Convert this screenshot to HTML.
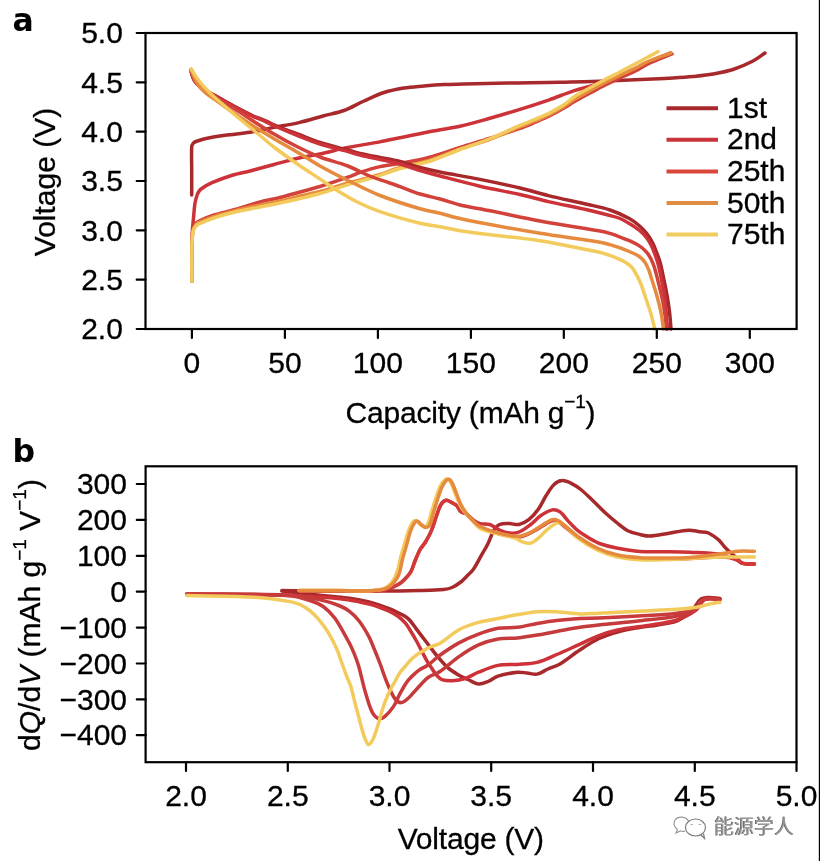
<!DOCTYPE html>
<html><head><meta charset="utf-8"><style>
html,body{margin:0;padding:0;background:#fff;}
body{width:820px;height:861px;overflow:hidden;position:relative;}
svg{position:absolute;left:0;top:0;}
.ax{fill:none;stroke:#000;stroke-width:2.2;}
.tk{fill:none;stroke:#000;stroke-width:2.2;stroke-linecap:round;}
.tl{font-family:"Liberation Sans",Arial,sans-serif;font-size:30px;fill:#000;stroke:#000;stroke-width:0.3px;}
.pl{font-family:"DejaVu Sans",sans-serif;font-size:31.5px;font-weight:bold;fill:#000;}
.lg{stroke-width:4;fill:none;}
.cv path{fill:none;stroke-width:3.5;stroke-linecap:round;stroke-linejoin:round;}
.wm{font-family:"Liberation Sans","Noto Sans CJK SC",sans-serif;font-size:20px;fill:#7a7a7a;}
</style></head><body>
<svg width="820" height="861" viewBox="0 0 820 861">
<rect x="0" y="0" width="820" height="861" fill="#fff"/>
<g class="cv">
<path d="M191.7,195.0C191.7,186.7 191.7,178.3 191.7,170.0C191.7,162.3 191.3,154.6 191.7,147.0C191.8,145.8 192.3,144.4 193.0,143.5C193.7,142.6 194.9,141.9 196.0,141.5C199.2,140.3 202.6,139.2 206.0,138.5C212.3,137.2 218.6,136.2 225.0,135.3C233.3,134.1 241.7,133.6 250.0,132.3C258.1,131.0 266.0,129.0 274.0,127.4C282.3,125.8 290.7,124.5 299.0,122.6C307.1,120.7 315.0,118.2 323.0,116.0C330.0,114.1 337.2,113.0 344.0,110.5C350.9,108.0 357.3,104.0 364.0,101.0C370.6,98.0 377.1,94.7 384.0,92.5C390.5,90.4 397.3,89.1 404.0,88.0C410.6,86.9 417.3,86.6 424.0,86.0C430.7,85.4 437.3,84.9 444.0,84.6C450.7,84.3 457.3,84.2 464.0,84.0C478.7,83.6 493.3,83.3 508.0,83.0C525.3,82.7 542.7,82.7 560.0,82.3C579.3,81.9 598.7,81.2 618.0,80.5C629.7,80.1 641.3,79.5 653.0,79.0C659.7,78.7 666.3,78.4 673.0,78.0C679.7,77.6 686.3,77.2 693.0,76.5C699.7,75.8 706.4,75.2 713.0,74.0C719.7,72.8 726.5,71.6 733.0,69.5C739.9,67.3 746.6,64.3 753.0,61.0C757.3,58.8 761.0,55.7 765.0,53.0" stroke="#a8292c"/>
<path d="M191.9,281.0C191.9,270.7 191.8,260.3 191.9,250.0C191.9,244.0 192.0,238.0 192.3,232.0C192.5,227.3 193.1,222.7 193.5,218.0C194.0,213.0 194.2,207.9 195.0,203.0C195.5,199.9 196.4,196.9 197.5,194.0C198.2,192.4 199.0,190.6 200.4,189.5C203.9,186.8 207.9,184.5 212.0,182.7C218.8,179.7 225.9,177.2 233.0,175.0C238.6,173.3 244.4,172.4 250.0,171.0C258.0,168.9 266.0,166.6 274.0,164.5C282.3,162.3 290.6,159.9 299.0,158.0C305.9,156.4 313.0,155.5 320.0,154.0C329.3,152.0 338.5,149.3 347.9,147.4C358.5,145.3 369.3,143.9 380.0,141.9C386.2,140.7 392.4,139.3 398.6,138.0C408.4,136.0 418.2,133.9 428.0,132.0C438.6,130.0 449.4,128.5 460.0,126.2C469.8,124.0 479.4,121.2 489.0,118.5C499.4,115.6 509.7,112.5 520.0,109.3C529.8,106.3 539.6,103.1 549.3,99.8C557.9,96.8 566.3,93.2 575.0,90.4C580.9,88.5 587.1,87.3 593.0,85.5C596.8,84.3 600.6,82.9 604.3,81.5C609.2,79.6 614.0,77.5 618.9,75.5C624.3,73.3 629.7,71.4 635.0,69.0C639.4,67.0 643.6,64.5 648.0,62.5C655.3,59.2 662.7,56.2 670.0,53.0" stroke="#cc3238"/>
<path d="M191.9,281.0C191.9,270.7 191.8,260.3 191.9,250.0C191.9,245.3 191.9,240.6 192.2,236.0C192.4,233.1 192.7,230.2 193.5,227.5C194.0,225.9 194.9,224.3 196.0,223.0C196.8,222.1 197.9,221.5 199.0,221.0C203.9,218.8 208.9,216.7 214.0,215.0C220.2,213.0 226.7,211.8 233.0,210.0C242.0,207.4 250.9,204.4 260.0,202.0C266.6,200.2 273.4,199.2 280.0,197.5C286.7,195.8 293.3,193.8 300.0,192.0C306.7,190.2 313.4,188.5 320.0,186.5C329.4,183.6 338.7,180.5 347.9,177.2C352.0,175.8 355.9,173.8 360.0,172.4C366.6,170.2 373.2,168.1 380.0,166.6C386.6,165.1 393.4,164.7 400.0,163.5C409.6,161.7 419.3,160.0 428.8,157.5C439.3,154.7 449.6,150.8 460.0,147.5C469.7,144.4 479.6,141.6 489.3,138.5C499.6,135.2 509.8,131.9 520.0,128.3C524.9,126.6 529.8,124.5 534.6,122.5C539.5,120.4 544.5,118.4 549.3,116.0C554.3,113.5 559.1,110.8 563.9,108.0C567.7,105.9 571.2,103.4 575.0,101.3C579.8,98.5 584.7,95.9 589.6,93.3C594.5,90.7 599.4,88.0 604.3,85.5C609.1,83.0 614.0,80.6 618.9,78.3C624.2,75.8 629.8,73.9 635.0,71.3C639.5,69.1 643.5,66.1 648.0,64.0C655.8,60.3 664.0,57.3 672.0,54.0" stroke="#d2423a"/>
<path d="M191.9,281.0C191.9,270.7 191.8,260.3 191.9,250.0C191.9,245.7 192.0,241.3 192.3,237.0C192.5,234.3 192.7,231.5 193.5,229.0C194.0,227.4 195.0,225.8 196.0,224.5C196.7,223.6 197.7,223.0 198.7,222.5C203.8,220.2 209.1,218.1 214.4,216.3C220.5,214.3 226.8,212.7 233.0,211.2C242.0,209.0 251.0,207.0 260.0,205.0C266.6,203.6 273.4,202.5 280.0,201.0C286.7,199.5 293.3,197.6 300.0,196.0C306.6,194.4 313.4,193.3 320.0,191.5C329.4,189.0 338.6,185.7 347.9,183.0C351.9,181.9 356.0,181.1 360.0,180.0C366.7,178.2 373.4,176.6 380.0,174.5C386.7,172.4 393.2,169.4 400.0,167.5C409.5,164.8 419.4,163.4 428.8,160.5C439.4,157.2 449.5,152.6 460.0,149.0C469.7,145.6 479.7,143.0 489.3,139.5C499.7,135.7 509.8,131.1 520.0,127.0C524.9,125.0 529.8,123.2 534.6,121.2C539.5,119.1 544.5,117.0 549.3,114.6C554.3,112.1 559.1,109.4 563.9,106.5C567.7,104.2 571.2,101.4 575.0,99.1C579.8,96.2 584.7,93.7 589.6,91.0C594.5,88.3 599.3,85.6 604.3,83.0C609.1,80.5 614.0,78.1 618.9,75.8C624.2,73.3 629.7,71.0 635.0,68.4C639.4,66.2 643.5,63.4 648.0,61.5C655.5,58.3 663.3,55.8 671.0,53.0" stroke="#e68a3e"/>
<path d="M191.9,281.0C191.9,270.7 191.8,260.3 191.9,250.0C191.9,246.0 192.0,242.0 192.3,238.0C192.5,235.3 192.7,232.5 193.5,230.0C194.0,228.5 195.0,227.2 196.0,226.0C196.7,225.2 197.7,224.5 198.7,224.0C203.8,221.7 209.1,219.6 214.4,217.8C220.5,215.8 226.7,214.0 233.0,212.5C241.9,210.4 251.0,208.8 260.0,207.0C266.7,205.7 273.4,204.4 280.0,203.0C286.7,201.6 293.4,200.1 300.0,198.5C306.7,196.9 313.4,195.4 320.0,193.5C329.4,190.8 338.6,187.5 347.9,184.6C351.9,183.4 356.0,182.4 360.0,181.2C366.7,179.3 373.4,177.5 380.0,175.4C386.7,173.3 393.2,170.4 400.0,168.5C409.5,165.8 419.4,164.5 428.8,161.5C439.4,158.1 449.6,153.4 460.0,149.5C469.7,145.9 479.7,142.9 489.3,139.0C499.7,134.8 509.7,129.7 520.0,125.3C524.8,123.2 529.8,121.5 534.6,119.5C539.5,117.4 544.5,115.4 549.3,113.0C554.3,110.5 559.2,107.8 563.9,104.8C567.8,102.2 571.1,98.8 575.0,96.2C579.7,93.2 584.7,90.7 589.6,88.0C594.5,85.3 599.4,82.6 604.3,80.0C609.1,77.4 614.0,75.0 618.9,72.5C624.3,69.7 629.6,66.9 635.0,64.0C639.3,61.7 643.7,59.3 648.0,57.0C651.3,55.2 654.7,53.5 658.0,51.7" stroke="#f2cb5c"/>
<path d="M191.3,69.5C191.4,70.7 191.2,71.9 191.5,73.0C192.3,75.7 193.1,78.8 194.8,81.0C197.4,84.3 201.0,87.0 204.5,89.5C207.5,91.7 211.0,93.2 214.3,95.0C217.5,96.8 220.8,98.7 224.0,100.5C227.3,102.3 230.5,104.2 233.8,106.0C237.0,107.7 240.3,109.3 243.5,111.0C246.8,112.7 250.0,114.5 253.3,116.0C257.1,117.7 261.2,118.9 265.0,120.5C268.2,121.9 271.2,123.7 274.4,125.0C282.5,128.3 290.7,131.4 298.8,134.5C305.9,137.2 312.8,140.2 320.0,142.5C329.2,145.4 338.6,147.4 347.9,150.0C351.9,151.1 355.9,152.5 360.0,153.5C366.6,155.0 373.3,156.2 380.0,157.5C386.7,158.8 393.4,159.9 400.0,161.5C406.7,163.2 413.3,165.7 420.0,167.5C426.6,169.2 433.3,170.7 440.0,172.0C453.3,174.6 466.7,176.7 480.0,179.4C493.4,182.1 506.7,184.9 520.0,188.0C529.5,190.3 538.8,193.3 548.3,195.6C561.5,198.8 574.8,201.4 588.0,204.5C595.4,206.2 602.9,207.6 610.0,210.0C616.6,212.2 623.1,215.2 629.3,218.5C632.8,220.4 636.0,222.9 639.0,225.5C641.8,227.9 644.5,230.6 646.8,233.5C649.1,236.4 651.0,239.7 652.7,243.0C654.3,246.0 655.4,249.3 656.6,252.5C657.8,255.6 659.1,258.8 660.0,262.0C661.6,267.9 662.7,274.0 664.0,280.0C665.1,285.0 666.1,290.0 667.0,295.0C668.0,300.6 668.8,306.3 669.5,312.0C670.2,317.6 670.5,323.3 671.0,329.0" stroke="#a8292c"/>
<path d="M191.3,69.5C191.4,70.7 191.2,71.9 191.5,73.0C192.3,75.9 193.0,79.1 194.8,81.5C197.3,84.9 201.0,87.7 204.5,90.2C207.5,92.4 211.1,93.7 214.3,95.5C217.6,97.3 220.8,99.1 224.0,101.0C227.3,102.9 230.5,105.0 233.8,106.8C237.0,108.5 240.3,110.1 243.5,111.7C246.8,113.3 250.0,115.1 253.3,116.6C257.1,118.3 261.2,119.6 265.0,121.3C268.2,122.7 271.2,124.6 274.4,126.0C282.5,129.5 290.6,132.8 298.8,136.0C305.8,138.8 312.8,141.7 320.0,144.0C329.2,146.9 338.6,148.9 347.9,151.5C351.9,152.6 355.9,154.0 360.0,155.0C366.6,156.7 373.3,158.0 380.0,159.5C386.7,161.0 393.4,162.2 400.0,164.0C406.8,165.9 413.3,168.5 420.0,170.5C426.6,172.5 433.3,174.2 440.0,176.0C453.3,179.5 466.6,183.1 480.0,186.2C493.3,189.3 506.7,191.5 520.0,194.5C529.5,196.6 538.8,199.4 548.3,201.6C561.5,204.6 574.8,207.0 588.0,210.0C595.4,211.7 602.7,213.6 610.0,215.5C613.4,216.4 616.8,217.2 620.0,218.5C623.2,219.8 626.3,221.7 629.3,223.5C632.6,225.5 636.0,227.5 639.0,230.0C641.9,232.4 644.6,235.1 646.8,238.0C648.9,240.7 650.5,243.9 652.0,247.0C653.4,249.9 654.4,253.0 655.5,256.0C656.6,259.1 657.7,262.3 658.5,265.5C659.9,270.9 661.0,276.5 662.0,282.0C663.1,288.0 664.3,294.0 665.0,300.0C666.1,309.6 666.7,319.3 667.5,329.0" stroke="#cc3238"/>
<path d="M191.3,69.5C191.5,71.0 191.5,72.6 192.0,74.0C192.9,76.7 193.8,79.7 195.5,82.0C198.0,85.3 201.2,88.3 204.5,90.8C207.5,93.1 211.1,94.6 214.3,96.5C217.6,98.5 220.8,100.5 224.0,102.5C227.3,104.5 230.5,106.5 233.8,108.5C237.0,110.5 240.3,112.4 243.5,114.5C245.7,115.9 247.8,117.6 250.0,119.0C258.1,124.2 266.1,129.5 274.4,134.3C282.4,139.0 290.5,143.4 298.8,147.5C305.7,150.9 312.8,154.3 320.0,157.0C329.1,160.4 338.8,162.5 347.9,166.0C355.4,168.9 362.4,172.9 369.8,176.0C374.6,178.0 379.5,179.5 384.4,181.2C389.6,183.0 394.8,184.7 400.0,186.6C406.7,189.0 413.2,191.9 420.0,194.0C426.6,196.0 433.4,197.2 440.0,199.0C446.7,200.8 453.2,203.4 460.0,205.0C469.5,207.2 479.2,208.6 488.8,210.5C505.9,213.9 522.9,217.8 540.0,221.0C559.9,224.7 580.0,227.5 600.0,231.0C603.3,231.6 606.6,232.4 609.8,233.4C613.1,234.4 616.3,235.6 619.5,236.8C622.8,238.0 626.1,239.3 629.3,240.7C632.6,242.2 636.0,243.6 639.0,245.6C641.5,247.2 643.9,249.3 645.9,251.5C647.8,253.5 649.4,255.9 650.7,258.3C652.3,261.4 653.6,264.7 654.6,268.0C656.3,273.6 657.6,279.3 659.0,285.0C660.2,290.0 661.5,295.0 662.5,300.0C663.5,305.0 664.3,310.0 665.0,315.0C665.6,319.6 666.0,324.3 666.5,329.0" stroke="#d2423a"/>
<path d="M191.3,69.5C191.9,71.0 192.4,72.5 193.0,74.0C194.3,77.0 195.2,80.3 197.0,83.0C199.1,86.3 201.7,89.4 204.5,92.0C207.4,94.7 211.0,96.7 214.3,99.0C217.5,101.3 220.8,103.7 224.0,106.0C227.3,108.3 230.5,110.7 233.8,113.0C237.0,115.2 240.3,117.3 243.5,119.5C245.7,121.0 247.8,122.6 250.0,124.0C258.1,129.1 266.2,134.1 274.4,139.0C282.5,143.8 290.7,148.2 298.8,153.0C305.9,157.2 312.8,162.0 320.0,166.0C329.1,171.1 338.5,175.9 347.9,180.5C358.5,185.7 369.0,191.2 380.0,195.5C393.1,200.6 406.5,204.8 420.0,208.8C426.5,210.7 433.4,211.7 440.0,213.3C446.7,214.9 453.3,217.0 460.0,218.5C469.5,220.7 479.2,222.5 488.8,224.3C505.8,227.5 522.9,230.5 540.0,233.3C560.0,236.5 580.1,239.0 600.0,242.2C603.3,242.7 606.6,243.7 609.8,244.6C613.1,245.5 616.3,246.5 619.5,247.6C622.8,248.8 626.1,250.1 629.3,251.5C632.6,253.0 636.1,254.3 639.0,256.3C641.3,257.9 643.3,260.0 644.9,262.2C646.6,264.5 647.7,267.3 648.8,270.0C650.1,273.2 650.9,276.7 652.0,280.0C653.5,284.9 655.2,289.8 656.6,294.8C658.2,300.6 659.8,306.4 661.0,312.3C662.1,317.8 662.7,323.4 663.5,329.0" stroke="#e68a3e"/>
<path d="M191.3,69.0C191.8,69.9 192.2,70.8 192.8,71.7C194.1,73.8 195.5,76.0 197.0,78.0C199.4,81.2 201.8,84.4 204.5,87.3C207.6,90.7 210.9,93.9 214.3,97.0C217.4,99.9 220.8,102.7 224.0,105.5C227.3,108.3 230.5,111.2 233.8,114.0C237.0,116.7 240.3,119.3 243.5,122.0C246.8,124.7 250.0,127.3 253.3,130.0C256.5,132.7 259.8,135.3 263.0,138.0C266.8,141.2 270.5,144.5 274.4,147.5C282.4,153.5 290.6,159.3 298.8,165.0C306.8,170.5 315.0,175.6 323.0,181.0C326.7,183.5 330.2,186.2 334.0,188.5C341.6,193.2 349.2,198.0 357.2,202.0C364.6,205.7 372.2,209.0 380.0,211.6C393.1,216.1 406.5,219.9 420.0,223.3C426.5,224.9 433.4,225.5 440.0,226.7C446.7,227.9 453.3,229.6 460.0,230.7C469.6,232.2 479.2,233.4 488.8,234.6C505.9,236.7 523.0,238.0 540.0,240.7C560.1,243.9 580.1,248.2 600.0,252.4C603.3,253.1 606.6,254.3 609.8,255.4C613.1,256.6 616.3,257.9 619.5,259.3C621.2,260.0 622.8,260.8 624.4,261.7C626.1,262.7 627.8,263.8 629.3,265.1C630.6,266.2 632.1,267.3 633.0,268.7C635.6,272.8 638.1,277.3 640.0,281.8C642.4,287.4 644.1,293.4 646.1,299.2C647.6,303.6 649.2,307.9 650.5,312.3C652.1,317.8 653.4,323.4 654.8,329.0" stroke="#f2cb5c"/>
<path d="M720.0,598.5C716.1,598.2 712.2,597.4 708.3,597.6C705.7,597.7 702.5,598.0 700.5,599.5C697.3,601.9 695.8,606.5 692.7,609.3C688.0,613.7 682.9,618.4 677.1,621.0C671.2,623.6 664.1,623.8 657.6,624.9C651.1,626.0 644.5,626.7 638.0,627.8C631.5,628.9 624.9,630.0 618.5,631.7C611.9,633.5 605.2,635.6 599.0,638.5C592.2,641.7 585.8,646.1 579.5,650.2C572.8,654.5 566.8,659.8 560.0,663.9C556.3,666.1 552.0,667.2 548.0,669.0C544.3,670.6 540.9,673.4 537.1,674.1C533.9,674.7 530.4,673.3 527.0,673.0C523.9,672.7 520.7,671.9 517.6,672.2C511.0,672.9 504.3,674.1 498.0,676.1C494.4,677.2 491.5,680.1 488.0,681.5C485.0,682.7 481.6,684.3 478.5,684.0C474.9,683.6 471.5,681.1 468.0,679.5C464.5,677.9 461.0,676.4 457.7,674.4C454.0,672.2 450.3,669.9 447.2,667.1C443.4,663.7 440.1,659.6 436.8,655.6C433.1,651.2 429.8,646.5 426.3,642.0C422.8,637.5 419.3,632.9 415.9,628.4C413.9,625.8 412.2,623.0 410.0,620.5C408.7,619.0 407.1,617.6 405.4,616.5C403.2,615.0 400.7,613.9 398.3,612.8C395.1,611.3 391.8,609.8 388.5,608.5C385.3,607.2 382.1,606.1 378.8,605.0C375.6,603.9 372.3,602.8 369.0,602.0C362.6,600.5 356.0,599.3 349.5,598.3C343.0,597.4 336.5,597.0 330.0,596.3C320.0,595.2 310.0,594.1 300.0,593.0C294.0,592.3 288.0,591.7 282.0,591.0" stroke="#a8292c"/>
<path d="M720.0,599.5C717.3,599.2 714.7,598.4 712.0,598.5C709.3,598.6 706.1,598.5 704.0,600.0C700.7,602.3 699.4,607.5 696.0,610.0C690.4,614.2 683.7,617.6 677.1,620.0C670.9,622.2 664.1,622.8 657.6,623.9C651.1,625.0 644.5,625.8 638.0,626.8C631.5,627.8 624.9,628.4 618.5,629.8C611.9,631.3 605.3,633.2 599.0,635.6C592.3,638.1 586.0,641.5 579.5,644.4C572.3,647.6 565.2,650.9 558.0,654.0C551.1,656.9 544.3,660.5 537.1,662.4C530.8,664.0 524.1,663.9 517.6,664.4C511.1,664.9 504.4,664.1 498.0,665.4C491.3,666.7 484.9,669.6 478.5,672.2C473.9,674.0 469.7,677.1 465.0,678.6C461.0,679.9 456.7,680.5 452.5,680.7C449.0,680.9 445.2,680.7 442.0,679.6C440.0,678.9 438.3,677.1 436.8,675.5C434.8,673.3 433.3,670.6 431.6,668.1C429.8,665.4 427.9,662.7 426.3,659.8C422.7,653.3 419.5,646.5 415.9,640.0C414.0,636.6 412.1,633.3 410.0,630.0C408.6,627.7 407.2,625.3 405.4,623.2C403.3,620.8 400.9,618.4 398.3,616.5C395.3,614.3 391.9,612.6 388.5,611.0C385.4,609.5 382.1,608.2 378.8,607.0C375.6,605.8 372.3,604.8 369.0,604.0C362.6,602.5 356.0,601.0 349.5,600.0C343.0,599.0 336.5,598.3 330.0,597.8C316.7,596.8 303.3,595.9 290.0,595.5C255.6,594.6 221.2,594.5 186.8,594.0" stroke="#cc3238"/>
<path d="M719.0,600.0C716.0,599.6 713.0,598.7 710.0,598.8C707.3,598.9 704.0,599.0 702.0,600.5C699.5,602.4 699.3,607.3 696.6,609.0C691.0,612.5 683.8,614.7 677.1,616.1C664.3,618.7 651.1,619.5 638.0,621.0C625.0,622.5 612.0,623.5 599.0,624.9C592.7,625.6 586.3,626.3 580.0,627.3C572.2,628.5 564.4,630.1 556.6,631.5C550.1,632.7 543.6,634.0 537.1,635.1C530.6,636.2 524.1,637.3 517.6,638.0C511.1,638.6 504.4,637.9 498.0,639.0C491.4,640.2 484.6,642.1 478.5,644.9C471.6,648.0 465.2,652.3 459.0,656.6C452.4,661.2 446.6,667.0 440.0,671.5C436.3,674.0 431.7,675.0 428.1,677.5C425.0,679.6 422.6,682.8 420.0,685.5C417.9,687.6 416.0,689.8 414.0,692.0C412.3,693.8 410.9,695.9 409.0,697.5C406.7,699.5 403.9,702.4 401.3,702.6C399.2,702.8 396.3,700.7 394.9,698.7C391.7,694.3 389.5,688.6 387.3,683.4C384.5,676.9 382.5,670.1 380.0,663.5C378.1,658.5 376.1,653.5 374.0,648.5C372.4,644.6 371.0,640.5 369.0,636.8C366.1,631.4 363.0,626.0 359.3,621.2C356.5,617.6 353.1,614.2 349.5,611.4C346.3,608.9 342.6,607.0 338.8,605.5C332.5,603.0 325.9,601.0 319.3,599.6C309.7,597.5 299.9,595.4 290.0,595.0C255.7,593.6 221.2,594.3 186.8,594.0" stroke="#c53a3a"/>
<path d="M718.0,599.5C714.8,599.2 711.4,598.1 708.3,598.5C705.6,598.8 702.5,599.8 700.5,601.5C698.6,603.1 698.8,607.2 696.6,608.3C691.0,611.1 683.7,612.3 677.1,613.2C664.2,614.9 651.0,615.3 638.0,616.1C625.0,616.9 612.0,617.5 599.0,618.0C592.7,618.3 586.3,618.1 580.0,618.5C572.2,619.0 564.4,619.6 556.6,620.5C550.1,621.2 543.6,622.3 537.1,623.4C530.6,624.5 524.2,626.5 517.6,627.3C511.1,628.1 504.4,627.2 498.0,628.3C491.4,629.5 484.8,631.7 478.5,634.1C471.8,636.6 465.2,639.5 459.0,642.9C452.2,646.6 445.8,651.0 439.5,655.5C435.5,658.4 432.1,662.1 428.1,665.0C425.6,666.8 422.6,667.9 420.0,669.5C418.8,670.2 417.6,671.0 416.6,672.0C413.5,674.8 410.2,677.6 407.7,680.9C404.7,684.8 402.4,689.3 400.0,693.6C397.7,697.8 396.2,702.5 393.6,706.4C391.1,710.1 388.1,713.9 384.7,716.6C383.0,717.9 380.1,719.2 378.3,718.5C375.8,717.6 373.3,714.5 372.0,711.8C368.9,705.3 367.1,698.0 365.0,691.0C362.5,682.4 360.9,673.6 358.3,665.0C356.7,659.7 354.6,654.5 352.4,649.4C350.8,645.7 348.9,642.1 346.9,638.6C343.0,631.7 339.5,624.5 334.9,618.2C331.6,613.8 327.6,609.7 323.2,606.5C319.8,604.0 315.5,602.3 311.4,601.0C304.4,598.7 297.3,596.1 290.0,595.7C255.8,593.8 221.2,594.6 186.8,594.0" stroke="#c83a3c"/>
<path d="M720.0,602.4C717.4,602.7 714.8,602.9 712.2,603.4C707.0,604.5 701.9,606.4 696.6,607.3C690.2,608.4 683.6,608.9 677.1,609.3C664.1,610.2 651.0,610.5 638.0,611.2C625.0,611.8 612.0,612.6 599.0,613.2C592.7,613.5 586.3,614.2 580.0,614.0C572.2,613.7 564.4,612.1 556.6,611.7C550.1,611.4 543.6,611.2 537.1,611.7C530.6,612.2 524.1,613.5 517.6,614.6C511.0,615.7 504.5,617.2 498.0,618.5C491.5,619.8 484.8,620.6 478.5,622.4C471.8,624.3 465.1,626.5 459.0,629.8C452.2,633.5 446.6,639.4 440.0,643.3C437.0,645.1 433.2,645.5 430.0,647.0C427.6,648.1 425.3,649.6 423.0,651.0C420.6,652.4 418.2,653.7 416.0,655.3C413.9,656.8 412.0,658.6 410.2,660.4C408.5,662.1 407.1,664.1 405.5,666.0C403.7,668.2 401.6,670.2 400.0,672.5C398.1,675.3 396.7,678.5 395.0,681.5C393.7,683.8 392.2,686.1 391.0,688.5C389.6,691.3 388.2,694.1 387.0,697.0C385.7,700.1 384.4,703.3 383.4,706.5C381.5,712.3 380.1,718.2 378.3,724.0C377.0,728.4 375.6,732.7 374.0,737.0C373.3,738.7 372.6,740.5 371.5,742.0C370.7,743.0 369.3,744.8 368.5,744.5C367.3,744.1 366.2,741.6 365.5,740.0C364.2,737.1 363.4,734.0 362.5,731.0C361.2,726.7 360.2,722.3 359.0,718.0C357.7,713.0 356.3,708.0 355.0,703.0C353.6,697.7 352.6,692.2 351.0,687.0C349.9,683.6 348.3,680.4 347.0,677.0C345.1,672.0 343.3,667.0 341.5,662.0C339.9,657.7 338.7,653.2 336.8,649.0C334.5,643.8 331.9,638.7 329.0,633.8C326.1,629.0 322.9,624.4 319.3,620.1C316.4,616.6 313.1,613.3 309.5,610.4C306.6,608.1 303.2,606.0 299.8,604.5C296.7,603.1 293.4,602.2 290.0,601.6C279.4,599.8 268.7,598.0 258.0,597.4C234.3,596.0 210.5,596.1 186.8,595.5" stroke="#f2cb5c"/>
<path d="M282.0,590.6C288.0,590.7 294.0,590.8 300.0,590.8C326.7,590.9 353.3,591.1 380.0,591.0C393.3,591.0 406.7,590.8 420.0,590.5C427.9,590.3 435.8,590.2 443.6,589.5C446.5,589.2 449.4,588.7 452.0,587.5C455.4,586.0 458.5,583.8 461.5,581.5C463.5,579.9 465.2,577.9 467.0,576.0C469.1,573.9 471.5,571.9 473.2,569.5C476.2,565.3 478.4,560.5 481.0,556.0C483.3,552.0 485.8,548.1 487.8,544.0C490.0,539.6 491.2,534.6 493.7,530.4C495.1,528.1 497.1,525.5 499.5,524.5C502.3,523.3 506.0,523.6 509.3,523.6C512.5,523.6 515.9,525.1 519.0,524.5C522.4,523.8 526.0,521.9 528.8,519.7C532.5,516.7 535.7,512.8 538.5,508.9C541.5,504.7 543.5,499.7 546.3,495.3C548.7,491.6 550.9,487.4 554.1,484.5C556.2,482.5 559.3,480.7 562.0,480.6C565.1,480.4 568.7,482.1 571.7,483.6C575.2,485.3 578.5,487.6 581.5,490.0C585.6,493.4 589.3,497.3 593.2,501.0C597.1,504.8 600.9,508.8 604.9,512.5C608.7,516.0 612.6,519.3 616.6,522.5C620.4,525.5 624.1,528.8 628.3,531.0C631.9,532.8 636.0,533.5 640.0,534.5C643.1,535.2 646.3,536.2 649.5,536.1C656.0,535.8 662.5,534.2 669.0,533.2C675.5,532.2 682.0,530.5 688.5,530.2C692.3,530.0 696.0,531.2 699.8,531.7C702.4,532.0 705.2,531.9 707.6,532.7C710.0,533.5 712.2,535.2 714.4,536.6C716.1,537.8 717.8,539.0 719.3,540.5C721.1,542.3 722.4,544.4 724.1,546.3C725.6,548.0 727.3,549.6 729.0,551.2C731.5,553.5 734.2,555.7 736.8,558.0C738.8,559.8 740.3,562.6 742.7,563.4C746.2,564.6 750.5,563.8 754.4,564.0" stroke="#a8292c"/>
<path d="M300.0,591.0C326.7,590.8 353.4,591.2 380.0,590.5C383.2,590.4 386.3,589.5 389.3,588.5C392.7,587.4 395.9,585.8 399.0,584.0C400.8,582.9 402.5,581.5 404.0,580.0C406.4,577.5 409.0,575.0 410.7,572.0C412.6,568.6 413.5,564.6 415.0,561.0C416.6,557.1 418.1,553.2 420.1,549.5C421.5,546.9 423.7,544.7 425.3,542.2C426.8,539.8 428.2,537.3 429.5,534.8C430.7,532.4 431.7,530.0 432.6,527.5C434.1,523.4 435.3,519.1 436.8,515.0C438.1,511.5 439.0,507.6 441.0,504.5C442.2,502.7 444.3,500.7 446.2,500.3C447.8,500.0 449.8,501.5 451.5,502.4C453.3,503.3 455.3,504.2 456.7,505.6C458.4,507.3 459.1,510.2 460.9,511.8C462.2,513.0 464.6,512.9 466.1,513.9C469.3,516.0 471.9,519.0 475.0,521.2C476.5,522.3 478.2,523.2 480.0,523.6C483.2,524.3 486.8,523.5 489.8,524.5C493.3,525.6 496.1,528.5 499.5,530.0C502.6,531.4 506.0,532.7 509.3,533.0C512.5,533.3 516.1,533.2 519.0,532.0C523.2,530.3 527.0,527.3 530.7,524.5C534.2,521.9 536.9,518.2 540.5,515.8C544.1,513.4 548.2,510.7 552.2,509.9C554.7,509.4 557.9,510.4 560.0,511.9C563.1,514.0 565.1,517.8 567.8,520.6C571.0,523.9 574.0,527.5 577.6,530.4C581.2,533.4 585.3,535.8 589.3,538.2C593.1,540.4 596.9,542.5 601.0,544.0C606.0,545.8 611.3,547.0 616.6,548.0C624.3,549.5 632.2,550.9 640.0,551.5C649.6,552.2 659.3,551.6 669.0,551.7C676.0,551.8 683.0,551.9 690.0,552.2C699.8,552.7 709.6,552.9 719.3,554.1C722.6,554.5 725.8,556.0 729.0,557.1C731.6,558.0 734.3,558.8 736.8,560.0C738.9,560.9 740.5,562.9 742.7,563.4C746.4,564.2 750.5,563.8 754.4,564.0" stroke="#cc3238"/>
<path d="M300.0,591.0C326.7,590.8 353.4,591.2 380.0,590.5C383.2,590.4 386.3,589.5 389.3,588.5C392.7,587.4 395.9,585.8 399.0,584.0C400.8,582.9 402.5,581.5 404.0,580.0C406.4,577.5 409.0,575.0 410.7,572.0C412.6,568.6 413.5,564.6 415.0,561.0C416.6,557.1 418.1,553.2 420.1,549.5C421.5,546.9 423.7,544.7 425.3,542.2C426.8,539.8 428.2,537.3 429.5,534.8C430.7,532.4 431.7,530.0 432.6,527.5C434.1,523.4 435.3,519.1 436.8,515.0C438.1,511.5 439.0,507.6 441.0,504.5C442.2,502.7 444.3,500.7 446.2,500.3C447.8,500.0 449.8,501.5 451.5,502.4C453.3,503.3 455.3,504.2 456.7,505.6C458.4,507.3 459.1,510.2 460.9,511.8C462.2,513.0 464.6,512.8 466.1,513.9C469.3,516.2 472.1,519.2 475.0,522.0C476.7,523.6 477.9,526.0 480.0,527.0C486.1,530.0 492.8,532.3 499.5,534.0C505.8,535.6 512.6,537.2 519.0,537.0C523.0,536.9 526.9,534.6 530.7,533.0C533.4,531.8 535.9,530.0 538.5,528.5C541.1,526.9 543.6,525.1 546.3,523.6C548.2,522.5 550.1,521.1 552.2,520.7C554.0,520.4 556.3,520.8 558.0,521.6C560.9,523.0 563.3,525.5 565.9,527.5C569.9,530.7 573.4,534.3 577.6,537.2C583.8,541.5 590.3,545.7 597.1,549.0C603.3,551.9 609.9,554.3 616.6,555.8C624.2,557.5 632.2,558.2 640.0,558.7C649.6,559.3 659.3,559.0 669.0,559.0C676.0,559.0 683.0,558.8 690.0,558.5C699.8,558.1 709.5,557.3 719.3,557.0C722.5,556.9 725.8,557.0 729.0,557.5C731.7,558.0 734.4,558.9 737.0,560.0C739.1,560.9 740.8,562.9 743.0,563.4C746.6,564.2 750.6,563.8 754.4,564.0" stroke="#d23a3a"/>
<path d="M299.0,590.6C312.7,590.6 326.3,590.5 340.0,590.6C346.7,590.6 353.3,591.1 360.0,591.0C366.0,590.9 372.1,590.8 378.0,590.0C380.8,589.6 383.5,588.7 386.0,587.5C387.9,586.6 389.6,585.1 391.0,583.5C392.6,581.6 393.9,579.3 395.0,577.0C396.2,574.4 397.2,571.7 398.0,569.0C399.0,565.4 399.6,561.6 400.5,558.0C401.7,553.3 403.1,548.7 404.5,544.0C405.9,539.3 407.1,534.6 408.8,530.0C409.8,527.4 410.9,524.7 412.5,522.5C413.2,521.5 414.5,520.4 415.5,520.5C416.7,520.7 417.8,522.6 419.0,523.5C420.4,524.6 421.9,526.3 423.5,526.5C424.8,526.7 426.8,525.7 427.5,524.5C429.6,520.6 430.4,515.5 431.8,511.0C433.2,506.5 434.5,502.0 436.0,497.5C437.3,493.7 438.4,489.8 440.2,486.2C441.3,484.0 442.8,481.8 444.5,480.2C445.3,479.4 446.9,478.6 447.8,479.0C449.1,479.6 450.2,481.5 451.0,483.0C452.7,486.3 453.8,490.0 455.2,493.5C456.6,497.0 457.8,500.7 459.5,504.0C461.0,507.0 462.9,509.9 465.0,512.5C467.4,515.5 470.3,518.2 473.0,521.0C475.3,523.5 477.1,526.9 480.0,528.4C485.9,531.4 493.0,532.5 499.5,534.3C504.7,535.7 510.0,536.5 515.1,538.2C517.8,539.1 520.2,541.2 522.9,542.1C525.4,542.9 528.3,543.7 530.7,543.1C533.5,542.4 536.1,540.1 538.5,538.2C541.3,535.9 543.5,532.8 546.3,530.4C548.7,528.3 551.3,526.1 554.1,524.5C555.9,523.5 558.2,522.3 560.0,522.6C562.1,523.0 564.1,524.9 565.9,526.5C570.0,530.1 573.2,534.9 577.6,538.2C583.6,542.7 590.3,546.7 597.1,549.9C603.3,552.8 609.9,555.2 616.6,556.7C624.2,558.4 632.2,559.3 640.0,559.7C649.6,560.2 659.3,559.7 669.0,559.5C676.0,559.3 683.0,558.8 690.0,558.5C699.8,558.0 709.5,557.3 719.3,557.0C725.8,556.8 732.3,557.1 738.8,557.1C744.0,557.1 749.2,557.1 754.4,557.1" stroke="#f2cb5c"/>
<path d="M299.0,590.6C312.7,590.6 326.3,590.5 340.0,590.6C346.7,590.6 353.3,591.1 360.0,591.0C366.7,590.9 373.4,590.8 380.0,590.0C382.8,589.7 385.6,588.8 388.0,587.5C390.0,586.5 391.7,584.8 393.2,583.2C394.7,581.7 395.9,579.8 397.0,578.0C398.1,576.1 399.1,574.1 399.7,572.0C400.9,568.1 401.3,564.0 402.3,560.0C403.6,555.1 405.1,550.2 406.5,545.3C407.9,540.4 409.0,535.4 410.7,530.7C411.8,527.8 413.2,524.7 414.9,522.3C415.4,521.6 416.7,520.9 417.5,521.2C418.8,521.6 419.9,523.4 421.1,524.4C422.5,525.5 423.8,527.3 425.3,527.5C426.6,527.7 428.8,526.7 429.5,525.4C431.6,521.5 432.3,516.3 433.7,511.8C435.1,507.3 436.4,502.7 437.9,498.2C439.2,494.3 440.4,490.4 442.1,486.7C443.1,484.5 444.5,482.2 446.2,480.5C447.0,479.7 448.6,479.0 449.4,479.4C450.7,480.0 451.7,482.1 452.5,483.6C454.2,487.0 455.3,490.6 456.7,494.1C458.1,497.6 459.2,501.2 460.9,504.5C462.4,507.4 464.1,510.3 466.1,512.9C468.2,515.8 470.6,518.5 473.2,521.0C475.3,523.0 477.4,525.3 480.0,526.5C486.2,529.4 492.8,531.6 499.5,533.3C505.8,534.9 512.6,536.4 519.0,536.2C523.0,536.1 527.0,534.0 530.7,532.3C533.5,531.1 535.9,529.1 538.5,527.5C541.1,525.9 543.6,524.1 546.3,522.6C548.2,521.5 550.1,520.1 552.2,519.7C554.0,519.4 556.3,519.8 558.0,520.6C560.9,522.0 563.3,524.5 565.9,526.5C569.9,529.7 573.4,533.3 577.6,536.2C583.8,540.5 590.3,544.7 597.1,548.0C603.3,550.9 609.9,553.3 616.6,554.8C624.2,556.5 632.2,557.2 640.0,557.7C649.6,558.3 659.3,558.0 669.0,558.0C676.0,558.0 683.0,557.9 690.0,557.5C696.0,557.1 702.0,556.4 708.0,555.6C714.5,554.8 721.1,553.6 727.6,552.7C731.3,552.2 735.0,551.4 738.8,551.2C744.0,550.9 749.2,551.2 754.4,551.2" stroke="#e68a3e"/>
</g>
<rect x="145.5" y="33.0" width="651.1" height="296.0" class="ax"/>
<rect x="145.6" y="466.3" width="650.9" height="295.9" class="ax"/>
<path d="M136.7,33.0H145.5 M136.7,82.3H145.5 M136.7,131.7H145.5 M136.7,181.0H145.5 M136.7,230.3H145.5 M136.7,279.7H145.5 M136.7,329.0H145.5 M191.9,329.0V338.0 M284.9,329.0V338.0 M377.9,329.0V338.0 M470.9,329.0V338.0 M563.8,329.0V338.0 M656.8,329.0V338.0 M749.8,329.0V338.0 M136.79999999999998,484.0H145.6 M136.79999999999998,519.9H145.6 M136.79999999999998,555.8H145.6 M136.79999999999998,591.7H145.6 M136.79999999999998,627.6H145.6 M136.79999999999998,663.5H145.6 M136.79999999999998,699.4H145.6 M136.79999999999998,735.2H145.6 M186.0,762.2V770.9000000000001 M287.8,762.2V770.9000000000001 M389.5,762.2V770.9000000000001 M491.2,762.2V770.9000000000001 M593.0,762.2V770.9000000000001 M694.8,762.2V770.9000000000001 M796.5,762.2V770.9000000000001" class="tk"/>
<text x="122.9" y="43.2" class="tl" text-anchor="end">5.0</text>
<text x="122.9" y="92.5" class="tl" text-anchor="end">4.5</text>
<text x="122.9" y="141.9" class="tl" text-anchor="end">4.0</text>
<text x="122.9" y="191.2" class="tl" text-anchor="end">3.5</text>
<text x="122.9" y="240.5" class="tl" text-anchor="end">3.0</text>
<text x="122.9" y="289.9" class="tl" text-anchor="end">2.5</text>
<text x="122.9" y="339.2" class="tl" text-anchor="end">2.0</text>
<text x="191.9" y="372.5" class="tl" text-anchor="middle">0</text>
<text x="284.9" y="372.5" class="tl" text-anchor="middle">50</text>
<text x="377.9" y="372.5" class="tl" text-anchor="middle">100</text>
<text x="470.9" y="372.5" class="tl" text-anchor="middle">150</text>
<text x="563.8" y="372.5" class="tl" text-anchor="middle">200</text>
<text x="656.8" y="372.5" class="tl" text-anchor="middle">250</text>
<text x="749.8" y="372.5" class="tl" text-anchor="middle">300</text>
<text x="127" y="494.2" class="tl" text-anchor="end">300</text>
<text x="127" y="530.1" class="tl" text-anchor="end">200</text>
<text x="127" y="566.0" class="tl" text-anchor="end">100</text>
<text x="127" y="601.9" class="tl" text-anchor="end">0</text>
<text x="127" y="637.8" class="tl" text-anchor="end">−100</text>
<text x="127" y="673.7" class="tl" text-anchor="end">−200</text>
<text x="127" y="709.6" class="tl" text-anchor="end">−300</text>
<text x="127" y="745.4" class="tl" text-anchor="end">−400</text>
<text x="186.0" y="806" class="tl" text-anchor="middle">2.0</text>
<text x="287.8" y="806" class="tl" text-anchor="middle">2.5</text>
<text x="389.5" y="806" class="tl" text-anchor="middle">3.0</text>
<text x="491.2" y="806" class="tl" text-anchor="middle">3.5</text>
<text x="593.0" y="806" class="tl" text-anchor="middle">4.0</text>
<text x="694.8" y="806" class="tl" text-anchor="middle">4.5</text>
<text x="796.5" y="806" class="tl" text-anchor="middle">5.0</text>
<text x="470.5" y="422.6" class="tl" text-anchor="middle" letter-spacing="-0.2">Capacity (mAh g<tspan dy="-14.5" font-size="19">−1</tspan><tspan dy="14.5">)</tspan></text>
<text transform="translate(54.5,182) rotate(-90)" class="tl" text-anchor="middle">Voltage (V)</text>
<text x="470.8" y="849.3" class="tl" text-anchor="middle" letter-spacing="-0.2">Voltage (V)</text>
<text transform="translate(40,615) rotate(-90)" class="tl" text-anchor="middle">d<tspan font-style="italic">Q</tspan>/d<tspan font-style="italic">V</tspan> (mAh g<tspan dy="-14.5" font-size="19">−1</tspan><tspan dy="14.5"> V</tspan><tspan dy="-14.5" font-size="19">−1</tspan><tspan dy="14.5">)</tspan></text>
<text x="12.6" y="30.8" class="pl">a</text>
<text x="12.6" y="461.6" class="pl">b</text>
<path d="M666.5,108.2H718" stroke="#a8292c" class="lg"/>
<text x="727" y="117.8" class="tl">1st</text>
<path d="M666.5,139.8H718" stroke="#c9333b" class="lg"/>
<text x="727" y="149.4" class="tl">2nd</text>
<path d="M666.5,171.4H718" stroke="#d9473a" class="lg"/>
<text x="727" y="181.0" class="tl">25th</text>
<path d="M666.5,203.0H718" stroke="#e08c42" class="lg"/>
<text x="727" y="212.6" class="tl">50th</text>
<path d="M666.5,234.6H718" stroke="#f0cc62" class="lg"/>
<text x="727" y="244.2" class="tl">75th</text>
<g fill="none" stroke="#9a9a9a" stroke-width="1.2">
<path d="M688.5,821 C686,816.5 678,815.5 675,820 C673,823.5 674.5,827.5 677.5,829.5 L676,833 L680.5,831 C682,831.5 683.5,831.5 685,831.3"/>
<ellipse cx="695.5" cy="827.5" rx="10" ry="8.5" stroke="#7a7a7a"/>
<path d="M701,835 L704.5,838.5 L703.5,833.5" stroke="#7a7a7a"/>
<path d="M690.5,824.5 l2.5,0 M698.5,824.5 l2.5,0" stroke="#b0b0b0"/>
</g>
<text x="713.6" y="834.3" class="wm" style="fill:#555">能源学人</text><text x="714.2" y="833.7" class="wm" style="fill:#999">能源学人</text>
<rect x="818.8" y="0" width="1.2" height="861" fill="#000"/>
</svg>
</body></html>
